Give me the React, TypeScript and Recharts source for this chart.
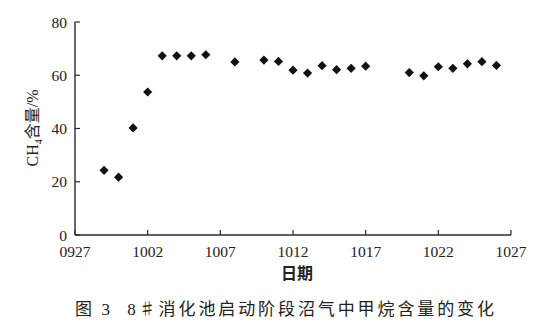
import React from 'react';
import { ScatterChart, Scatter, XAxis, YAxis } from 'recharts';

const dates = ['0929','0930','1001','1002','1003','1004','1005','1006','1008','1010','1011','1012','1013','1014','1015','1016','1017','1020','1021','1022','1023','1024','1025','1026'];
const ch4 = [24.3,21.7,40.2,53.7,67.3,67.3,67.3,67.7,65.0,65.7,65.2,61.9,60.8,63.6,62.1,62.6,63.4,61.0,59.8,63.2,62.6,64.3,65.1,63.7];
const xTickLabels = ['0927','1002','1007','1012','1017','1022','1027'];
const yTicks = [0, 20, 40, 60, 80];

// day offset from 09-27
const dayIndex = (s: string) => {
  const m = parseInt(s.slice(0, 2), 10);
  const d = parseInt(s.slice(2), 10);
  return m === 9 ? d - 27 : d + 3;
};

const xTicks = xTickLabels.map(dayIndex);
const data = dates.map((d, i) => ({ day: dayIndex(d), value: ch4[i] }));
const labelOf = (v: number) => xTickLabels[xTicks.indexOf(v)] ?? '';

const SERIF = 'Liberation Serif, DejaVu Serif, serif';
const CJK = 'Noto Sans CJK SC, sans-serif';
const AXIS = '#2a2a2a';

const Diamond = (props: any) => {
  const { cx, cy } = props;
  const r = 4.6;
  return (
    <polygon
      points={`${cx},${cy - r} ${cx + r},${cy} ${cx},${cy + r} ${cx - r},${cy}`}
      fill="#111"
    />
  );
};

const XTick = (props: any) => {
  const { x, y, payload } = props;
  return (
    <text x={x} y={y} dy="0.71em" textAnchor="middle" style={{ fontFamily: SERIF }} fontSize={15.5} fill="#222">
      {labelOf(payload.value)}
    </text>
  );
};

const YTick = (props: any) => {
  const { x, y, payload } = props;
  return (
    <text x={x} y={y} dy="0.355em" textAnchor="end" style={{ fontFamily: SERIF }} fontSize={15.5} fill="#222">
      {payload.value}
    </text>
  );
};

const YLabel = () => (
  <text
    x={38}
    y={128}
    transform="rotate(-90, 38, 128)"
    textAnchor="middle"
    fontSize={16}
    fill="#222"
  >
    <tspan style={{ fontFamily: SERIF }}>CH</tspan>
    <tspan dy={4} fontSize={10} style={{ fontFamily: SERIF }}>4</tspan>
    <tspan dy={-4} style={{ fontFamily: CJK }}>含量</tspan>
    <tspan style={{ fontFamily: SERIF }}>/%</tspan>
  </text>
);

export default function App() {
  return (
    <div style={{ position: 'absolute', left: 0, top: 0, width: 554, height: 334, background: '#fff' }}>
      <ScatterChart
        width={554}
        height={334}
        margin={{ top: 22, right: 43, bottom: 69, left: 0 }}
      >
        <XAxis
          type="number"
          dataKey="day"
          domain={[0, 30]}
          ticks={xTicks}
          height={30}
          tickSize={-5}
          tickMargin={16}
          axisLine={{ stroke: AXIS, strokeWidth: 1.4 }}
          tickLine={{ stroke: AXIS, strokeWidth: 1.2 }}
          tick={<XTick />}
          interval={0}
          label={{
            value: '日期',
            position: 'insideBottom',
            offset: -14,
            dx: 4,
            style: { fontFamily: CJK, fontWeight: 'bold', fontSize: 16, fill: '#222' },
          }}
        />
        <YAxis
          type="number"
          dataKey="value"
          domain={[0, 80]}
          ticks={yTicks}
          width={75}
          tickSize={-5}
          tickMargin={13}
          axisLine={{ stroke: AXIS, strokeWidth: 1.4 }}
          tickLine={{ stroke: AXIS, strokeWidth: 1.2 }}
          tick={<YTick />}
          interval={0}
          label={{ content: () => <YLabel /> }}
        />
        <Scatter data={data} shape={<Diamond />} isAnimationActive={false} />
      </ScatterChart>
      <div
        style={{
          position: 'absolute',
          left: 75,
          top: 297,
          fontSize: 17,
          letterSpacing: 2.9,
          color: '#222',
          whiteSpace: 'pre',
          lineHeight: '22px',
        }}
      >
        <span style={{ fontFamily: CJK }}>图 </span>
        <span style={{ fontFamily: SERIF }}>3  8</span>
        <span style={{ fontFamily: CJK }}>♯消化池启动阶段沼气中甲烷含量的变化</span>
      </div>
    </div>
  );
}
